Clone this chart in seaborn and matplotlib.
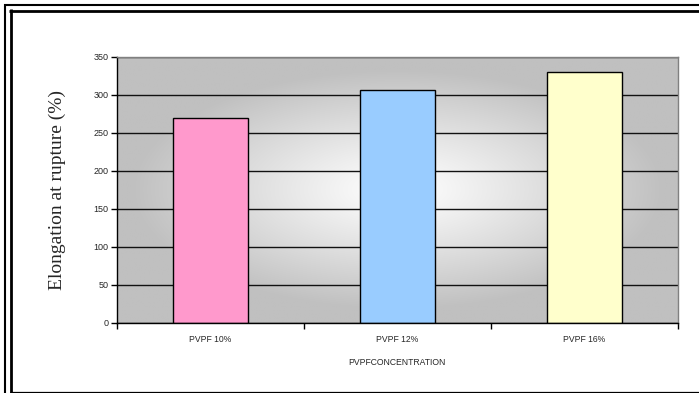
import numpy as np
import pandas as pd
import matplotlib
matplotlib.use("Agg")
import matplotlib.pyplot as plt
from matplotlib.lines import Line2D
import seaborn as sns

categories = ["PVPF 10%", "PVPF 12%", "PVPF 16%"]
values = [270, 306, 330]
colors = ["#FF99CC", "#99CCFF", "#FFFFCC"]
y_ticks = [0, 50, 100, 150, 200, 250, 300, 350]
x_title = "PVPFCONCENTRATION"
y_title = "Elongation at rupture (%)"

df = pd.DataFrame({"cat": categories, "val": values})

sns.set_style("white")
plt.rcParams["font.family"] = ["Liberation Sans", "DejaVu Sans"]

W, H = 699, 393
fig = plt.figure(figsize=(W / 100, H / 100), dpi=100)
fig.patch.set_facecolor("white")

l, r, t, b = 116.7, 677.7, 57.0, 323.0
ax = fig.add_axes([l / W, 1 - b / H, (r - l) / W, (b - t) / H])

# gradient background (white centre, grey edges)
gx = np.linspace(-1, 1, 300)
gy = np.linspace(-1, 1, 200)
X, Y = np.meshgrid(gx, gy)
R = np.sqrt((X / 0.95) ** 2 + (Y / 0.9) ** 2)
R = np.clip(R, 0, 1)
grey = 1.0 - (1.0 - 0xC0 / 255) * R ** 1.1
img = np.dstack([grey, grey, grey])
ax.imshow(img, extent=[0, 1, 0, 1], transform=ax.transAxes, aspect="auto",
          zorder=0, interpolation="bilinear")

sns.barplot(data=df, x="cat", y="val", hue="cat", palette=colors, legend=False,
            width=0.4, edgecolor="black", linewidth=1.0, saturation=1, ax=ax,
            zorder=2)

ax.set_xlim(-0.5, 2.5)
ax.set_ylim(0, 350)
ax.set_yticks(y_ticks)
ax.set_axisbelow(True)
ax.yaxis.grid(True, color="#111111", linewidth=1.0)
ax.xaxis.grid(False)

for s in ["top", "right"]:
    ax.spines[s].set_color("#808080")
    ax.spines[s].set_linewidth(1.0)
for s in ["left", "bottom"]:
    ax.spines[s].set_color("black")
    ax.spines[s].set_linewidth(1.0)

ax.tick_params(axis="y", which="major", direction="out", length=4, width=1,
               color="black", labelsize=6.5, pad=2, left=True)
ax.set_xticks([-0.5, 0.5, 1.5, 2.5], minor=True)
ax.tick_params(axis="x", which="minor", direction="out", length=4, width=1,
               color="black", bottom=True)
ax.tick_params(axis="x", which="major", length=0, labelsize=6.2, pad=9)

ax.set_xlabel(x_title, fontsize=6.2, labelpad=9.8)
ax.set_ylabel(y_title, fontsize=14, family=["Liberation Serif", "DejaVu Serif"])
ax.yaxis.set_label_coords(-0.091, 0.5)

# double frame around chart
def hline(y, x0, x1, lw):
    fig.add_artist(Line2D([x0 / W, x1 / W], [1 - y / H, 1 - y / H],
                          transform=fig.transFigure, color="black", lw=lw,
                          solid_capstyle="butt"))

def vline(x, y0, y1, lw):
    fig.add_artist(Line2D([x / W, x / W], [1 - y0 / H, 1 - y1 / H],
                          transform=fig.transFigure, color="black", lw=lw,
                          solid_capstyle="butt"))

hline(5.3, 4.3, W, 1.5)
vline(5.3, 4.3, H, 1.5)
hline(10.7, 9.3, W, 2.0)
vline(10.7, 9.3, H, 2.0)
hline(391.8, 10, W, 0.9)

fig.savefig("out.png", dpi=100)
